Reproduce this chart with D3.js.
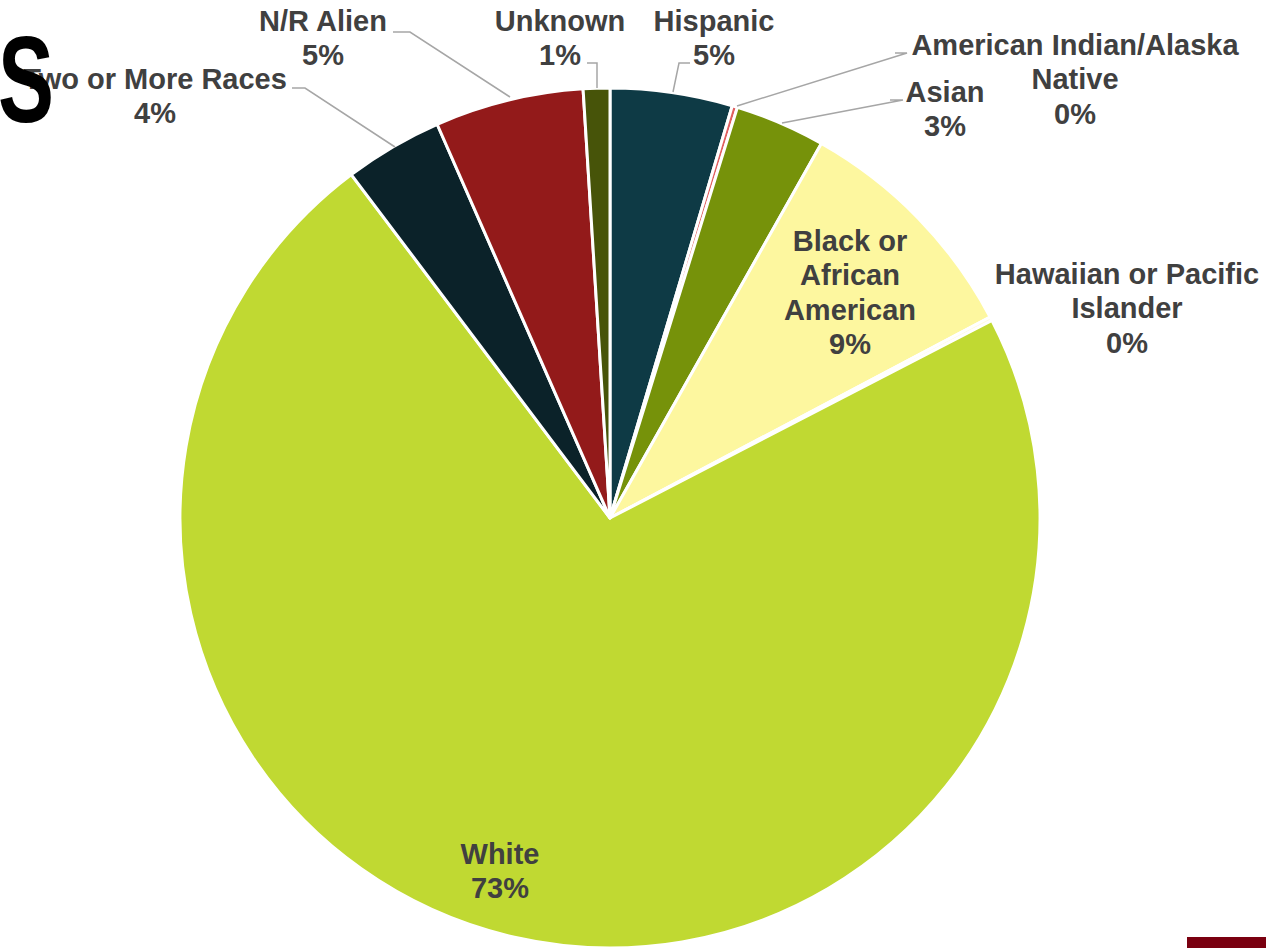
<!DOCTYPE html>
<html>
<head>
  <meta charset="utf-8" />
  <title>Race / Ethnicity</title>
  <script src="https://cdnjs.cloudflare.com/ajax/libs/d3/7.8.5/d3.min.js"></script>
  <style>
    body { margin: 0; background: #fff; }
    svg { display: block; }
    .lbl { font-family: "Liberation Sans", Arial, sans-serif; font-weight: bold; font-size: 29px; fill: #404040; }
  </style>
</head>
<body>
  <svg width="1266" height="948"></svg>
  <script>
    // slices, clockwise from 12 o'clock
    let categories = ['Hispanic', 'American Indian/Alaska Native', 'Asian', 'Black or African American',
                      'Hawaiian or Pacific Islander', 'White', 'Two or More Races', 'N/R Alien', 'Unknown']
    let shares = [4.6, 0.2, 3.4, 9.1, 0.15, 72.5, 3.7, 5.6, 1.0]
    let pctLabels = ['5%', '0%', '3%', '9%', '0%', '73%', '4%', '5%', '1%']
    let colors = ['#0e3a45', '#e06060', '#76920a', '#fdf79f', '#fffbe0', '#c0d932', '#0b2229', '#931a1a', '#475409']

    // label text lines and where they sit
    let labelLines = [
      ['Hispanic'], ['American Indian/Alaska', 'Native'], ['Asian'], ['Black or', 'African', 'American'],
      ['Hawaiian or Pacific', 'Islander'], ['White'], ['Two or More Races'], ['N/R Alien'], ['Unknown']
    ]
    let labelPos = [[714, 31], [1075, 55], [945, 102], [850, 251], [1127, 284], [500, 864], [155, 89], [323, 31], [560, 31]]
    let leaders = [
      [[690, 63], [679, 63], [673, 92]],
      [[895, 53], [907, 53], [737, 106]],
      [[890, 100], [903, 100], [782, 123]],
      null, null, null,
      [[292, 88], [305, 88], [395, 147]],
      [[393, 32], [410, 32], [510, 97]],
      [[587, 63], [597, 63], [597, 88]]
    ]

    let svg = d3.select('svg')
    let cx = 610, cy = 518, r = 430

    let pie = d3.pie().sort(null).value(function(d) { return d })
    let arc = d3.arc().innerRadius(0).outerRadius(r)

    svg.append('g')
      .attr('transform', 'translate(' + cx + ',' + cy + ')')
      .selectAll('path')
      .data(pie(shares))
      .enter()
      .append('path')
      .attr('d', arc)
      .attr('fill', function(d, i) { return colors[i] })
      .attr('stroke', '#fff')
      .attr('stroke-width', 3)
      .attr('stroke-linejoin', 'round')

    let line = d3.line()
    svg.append('g')
      .selectAll('path')
      .data(leaders.filter(function(d) { return d }))
      .enter()
      .append('path')
      .attr('d', line)
      .attr('fill', 'none')
      .attr('stroke', '#a6a6a6')
      .attr('stroke-width', 1.5)

    let labels = svg.append('g')
    categories.forEach(function(c, i) {
      let t = labels.append('text')
        .attr('class', 'lbl')
        .attr('text-anchor', 'middle')
        .attr('x', labelPos[i][0])
        .attr('y', labelPos[i][1])
      labelLines[i].concat([pctLabels[i]]).forEach(function(s, j) {
        t.append('tspan')
          .attr('x', labelPos[i][0])
          .attr('dy', j === 0 ? 0 : 34.3)
          .text(s)
      })
    })

    // cropped slide title and footer bar
    svg.append('text')
      .attr('x', -2)
      .attr('y', 122)
      .attr('font-family', '"Liberation Sans", Arial, sans-serif')
      .attr('font-weight', 'bold')
      .attr('font-size', 122)
      .attr('textLength', 56)
      .attr('lengthAdjust', 'spacingAndGlyphs')
      .attr('fill', '#000')
      .text('S')

    svg.append('rect')
      .attr('x', 1187).attr('y', 937)
      .attr('width', 79).attr('height', 11)
      .attr('fill', '#7a0010')
  </script>
</body>
</html>
